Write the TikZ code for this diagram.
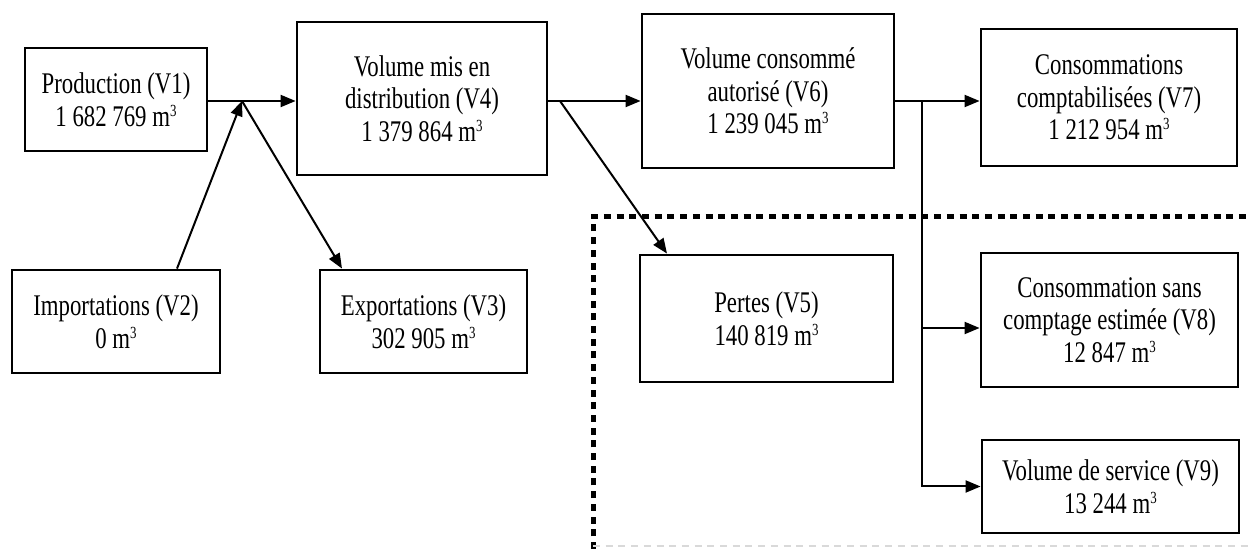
\documentclass[tikz,border=0pt]{standalone}
\usepackage{fontspec}
\setmainfont{Liberation Serif}[FakeStretch=0.76]
\usetikzlibrary{arrows.meta}
\newcommand{\mcube}{m\raisebox{0.33em}{\fontsize{8.5}{8.5}\selectfont 3}}

\begin{document}
\begin{tikzpicture}[x=0.5pt, y=-0.5pt, >={Triangle[length=7.5pt,width=6pt]},
  font=\fontsize{15}{16.3}\selectfont,
  volbox/.style={draw, line width=1.4pt, align=center, inner sep=0pt},
  flow/.style={->, line width=1pt}]

\useasboundingbox (0,0) rectangle (1249,549);

% Dotted frame around the losses and the other uses
\draw[line width=2.5pt, dash pattern=on 3.5pt off 2.85pt] (593,549) -- (593,217) -- (1249,217);
\draw[gray!30, line width=1pt, dash pattern=on 3.5pt off 2.85pt] (593,546) -- (1249,546);

% Boxes
\node[volbox, minimum width=91pt, minimum height=51.5pt] (v1) at (116,99.5) {Production (V1)\\1 682 769 \mcube};
\node[volbox, minimum width=104pt, minimum height=51.5pt] (v2) at (116,321.5) {Importations (V2)\\0 \mcube};
\node[volbox, minimum width=103.5pt, minimum height=51.5pt] (v3) at (423.5,321.5) {Exportations (V3)\\302 905 \mcube};
\node[volbox, minimum width=125pt, minimum height=76.5pt] (v4) at (422,98.5) {Volume mis en\\distribution (V4)\\1 379 864 \mcube};
\node[volbox, minimum width=126.5pt, minimum height=63.5pt] (v5) at (766.5,318.5) {Pertes (V5)\\140 819 \mcube};
\node[volbox, minimum width=126pt, minimum height=77pt] (v6) at (768,91) {Volume consommé\\autorisé (V6)\\1 239 045 \mcube};
\node[volbox, minimum width=128pt, minimum height=68.5pt] (v7) at (1109,97.5) {Consommations\\comptabilisées (V7)\\1 212 954 \mcube};
\node[volbox, minimum width=128.5pt, minimum height=67pt] (v8) at (1109.5,320) {Consommation sans\\comptage estimée (V8)\\12 847 \mcube};
\node[volbox, minimum width=128.5pt, minimum height=46.5pt] (v9) at (1110.5,486.5) {Volume de service (V9)\\13 244 \mcube};

% Branch points
\coordinate (j1) at (242,101);
\coordinate (j2) at (560,101);
\coordinate (j3) at (922,101);

% Arrows
\draw[flow] (v1.east |- j1) -- (v4.west |- j1);
\draw[flow] ([xshift=30.5pt]v2.north) -- (j1);
\draw[flow] (j1) -- ([xshift=-40.75pt]v3.north);
\draw[flow] (v4.east |- j2) -- (v6.west |- j2);
\draw[flow] (j2) -- ([xshift=-49.75pt]v5.north);
\draw[flow] (v6.east |- j3) -- (v7.west |- j3);
\draw[flow] (j3 |- v8.west) ++(0,8) -- ([yshift=-4pt]v8.west);
\draw[flow] (j3) |- (v9.west);

\end{tikzpicture}
\end{document}
